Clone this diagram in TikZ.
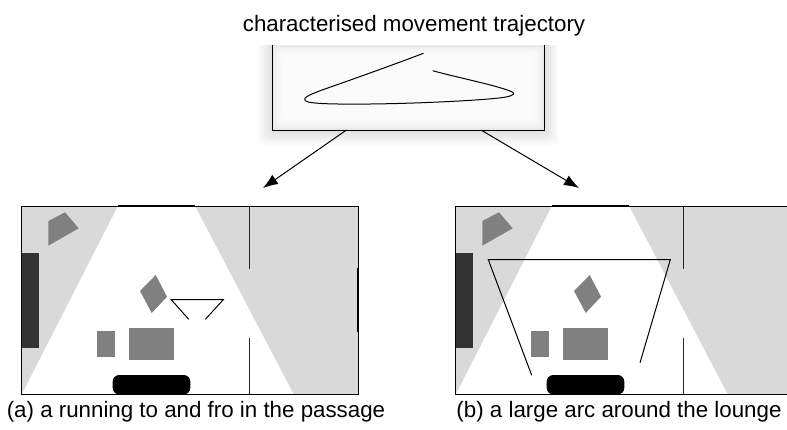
\documentclass[tikz,border=0pt]{standalone}
\usepackage{fontspec}
\setmainfont{Liberation Sans}
\usetikzlibrary{arrows.meta}
\definecolor{conelight}{HTML}{D9D9D9}
\definecolor{furn}{HTML}{808080}
\definecolor{wallDark}{HTML}{333333}
\tikzset{
  x=1bp,y=-1bp,
  wall/.style={draw=black,line width=1bp},
  thickwall/.style={draw=black,line width=1.6bp},
  partition/.style={draw=black!85,line width=1bp},
  furniture/.style={fill=furn,draw=none},
  track/.style={draw=black,line width=1bp},
  captext/.style={font=\fontsize{22.4pt}{26pt}\selectfont,inner sep=0pt,anchor=base},
  flow/.style={draw=black,line width=1bp,-{Latex[length=15bp,width=11bp]}},
}
\newcommand{\roomplan}{%
  \fill[conelight] (21,206) rectangle (358,394);
  \fill[white] (118,206) -- (195,206) -- (293.5,394) -- (22,394) -- cycle;
  \fill[furniture] (48.3,221) -- (65,212.3) -- (78.7,228.3) -- (48.3,245.7) -- cycle;
  \fill[wallDark] (21,253) rectangle (39,347.7);
  \fill[furniture] (155.7,275) -- (167,296.7) -- (151.7,313) -- (140,291) -- cycle;
  \fill[furniture] (96.7,331) rectangle (115,357.3);
  \fill[furniture] (129,328) rectangle (174,359.7);
  \draw[wall] (21,206) rectangle (358,394);
  \draw[thickwall] (118,205.6) -- (195,205.6);
  \fill[black,rounded corners=6.5bp] (112.7,375) rectangle (190.3,394.4);
  \draw[partition] (249,206) -- (249,269.3);
  \draw[partition] (249,338) -- (249,394);
  \draw[thickwall] (357.6,268.3) -- (357.6,332.3);
}
\begin{document}
\begin{tikzpicture}
\useasboundingbox (0,0) rectangle (787,429);
\clip (0,0) rectangle (787,429);
% soft shadow of the trajectory box
\begin{scope}
  \clip (230,45) rectangle (590,160);
  \foreach \d in {14,12,...,0}
    \fill[black,opacity=0.014,rounded corners=4bp] (272-\d,30) rectangle (544.7+\d,131+\d);
  \foreach \d in {0,2,...,12}
    \fill[white,opacity=0.3,rounded corners=4bp] (272+\d,45+\d) rectangle (544.7-\d,130-\d);
\end{scope}
\node[captext] (title) at (414,31.7) {characterised movement trajectory};
\draw[wall] (272.2,45) -- (272.2,130) -- (544.7,130) -- (544.7,45);
\coordinate (boxL) at (346.5,130);
\coordinate (boxR) at (481,130);
\coordinate (tipL) at (263,188);
\coordinate (tipR) at (579,188);
\draw[flow] (boxL) -- (tipL);
\draw[flow] (boxR) -- (tipR);
\draw[track] (423.5,53.3) .. controls (390,66) and (345,82) .. (322,90)
  .. controls (309,95) and (303,97.5) .. (305,100.5)
  .. controls (308,104) and (335,104.3) .. (370,104)
  .. controls (420,103.5) and (490,100) .. (506,97)
  .. controls (516,95) and (515,92.5) .. (510,91)
  .. controls (495,85) and (455,77) .. (432.7,70.7);
% room (a)
\begin{scope}
  \roomplan
  \draw[track] (188.7,319.3) -- (171.3,299.7) -- (223.3,299.7) -- (205.3,319.3);
\end{scope}
% room (b)
\begin{scope}[xshift=434bp]
  \roomplan
  \draw[track] (97.7,375.3) -- (54.3,259.7) -- (236.3,259.7) -- (206,362.7);
\end{scope}
\node[captext] (capA) at (196,417) {(a) a running to and fro in the passage};
\node[captext] (capB) at (619,417) {(b) a large arc around the lounge};
\end{tikzpicture}
\end{document}
